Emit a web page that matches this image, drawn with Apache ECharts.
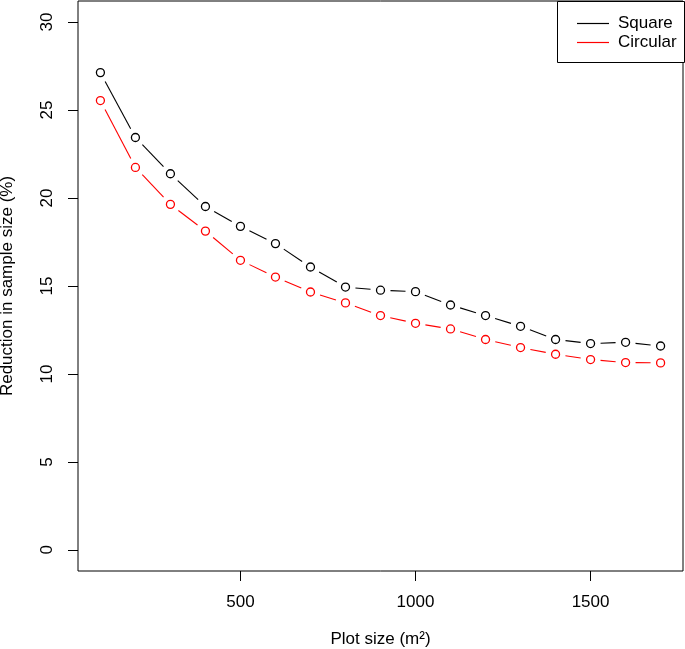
<!DOCTYPE html>
<html>
<head>
<meta charset="utf-8">
<script src="https://cdn.jsdelivr.net/npm/echarts@6/dist/echarts.min.js"></script>
<style>
html,body{margin:0;padding:0;background:#fff;}
#chart{width:685px;height:649px;}
</style>
</head>
<body>
<div id="chart"></div>
<script>
var plotSizes = [100,200,300,400,500,600,700,800,900,1000,1100,1200,1300,1400,1500,1600,1700];
var squareValues = [27.13,23.44,21.38,19.52,18.39,17.41,16.08,14.94,14.76,14.68,13.92,13.32,12.71,11.96,11.73,11.80,11.59];
var circularValues = [25.54,21.74,19.64,18.12,16.46,15.51,14.66,14.04,13.32,12.88,12.56,11.96,11.50,11.12,10.82,10.65,10.63];
var xTicks = [500,1000,1500];
var yTicks = [0,5,10,15,20,25,30];
var xTitle = 'Plot size (m²)';
var yTitle = 'Reduction in sample size (%)';
var seriesNames = ['Square','Circular'];
var seriesColors = ['#000000','#ff0000'];

function pairs(xs, ys){ return xs.map(function(x,i){ return [x, ys[i]]; }); }
function segments(xs, ys){
  var out = [];
  for (var i = 0; i < xs.length - 1; i++) out.push([xs[i], ys[i], xs[i+1], ys[i+1]]);
  return out;
}

var FONT = 'Liberation Sans';
var GAP = 10; // px gap between line ends and point centres (R type="b")
var valuesList = [squareValues, circularValues];
var series = [];
valuesList.forEach(function(vals, i){
  var col = seriesColors[i];
  series.push({
    name: seriesNames[i],
    type: 'custom',
    coordinateSystem: 'cartesian2d',
    data: segments(plotSizes, vals),
    encode: {x: [0, 2], y: [1, 3]},
    itemStyle: {color: col},
    silent: true,
    z: 2,
    renderItem: function(params, api){
      var p1 = api.coord([api.value(0), api.value(1)]);
      var p2 = api.coord([api.value(2), api.value(3)]);
      var dx = p2[0] - p1[0], dy = p2[1] - p1[1];
      var len = Math.sqrt(dx*dx + dy*dy);
      if (len <= 2*GAP) return null;
      var ux = dx/len, uy = dy/len;
      return {
        type: 'line',
        shape: {x1: p1[0] + ux*GAP, y1: p1[1] + uy*GAP, x2: p2[0] - ux*GAP, y2: p2[1] - uy*GAP},
        style: {stroke: col, lineWidth: 1.1, fill: null}
      };
    }
  });
});
valuesList.forEach(function(vals, i){
  series.push({
    name: seriesNames[i] + ' points',
    type: 'scatter',
    data: pairs(plotSizes, vals),
    symbol: 'circle',
    symbolSize: 8,
    itemStyle: {color: '#ffffff', borderColor: seriesColors[i], borderWidth: 1.3, opacity: 1},
    emphasis: {disabled: true},
    silent: true,
    z: 4
  });
});

var chart = echarts.init(document.getElementById('chart'));
chart.setOption({
  animation: false,
  backgroundColor: '#ffffff',
  grid: {left: 78, top: 1, right: 2, bottom: 78, show: true, borderColor: '#000', borderWidth: 1, backgroundColor: 'transparent', containLabel: false, outerBoundsMode: 'none'},
  xAxis: {
    type: 'value', min: 36, max: 1764,
    axisLine: {show: false, onZero: false},
    splitLine: {show: false},
    axisTick: {show: true, length: 10, lineStyle: {color: '#000', width: 1}, customValues: xTicks},
    axisLabel: {show: true, customValues: xTicks, margin: 23, color: '#000', fontFamily: FONT, fontSize: 17,
      formatter: function(v){ return String(v); }},
    name: xTitle, nameLocation: 'middle', nameGap: 60,
    nameTextStyle: {color: '#000', fontFamily: FONT, fontSize: 17}
  },
  yAxis: {
    type: 'value', min: -1.2, max: 31.2,
    axisLine: {show: false, onZero: false},
    splitLine: {show: false},
    axisTick: {show: true, length: 10, lineStyle: {color: '#000', width: 1}, customValues: yTicks},
    axisLabel: {show: true, customValues: yTicks, rotate: 90, margin: 22, color: '#000', fontFamily: FONT, fontSize: 17,
      formatter: function(v){ return String(v); }},
    name: yTitle, nameLocation: 'middle', nameGap: 62, nameRotate: 90,
    nameTextStyle: {color: '#000', fontFamily: FONT, fontSize: 17}
  },
  legend: {
    orient: 'vertical',
    left: 572, top: 10,
    itemWidth: 32, itemHeight: 1.2, itemGap: 2,
    selectedMode: false,
    textStyle: {color: '#000', fontFamily: FONT, fontSize: 17, padding: [0,0,0,4]},
    data: [
      {name: seriesNames[0], icon: 'rect', itemStyle: {color: seriesColors[0]}},
      {name: seriesNames[1], icon: 'rect', itemStyle: {color: seriesColors[1]}}
    ]
  },
  graphic: [{
    type: 'rect', left: 557, top: 1, z: 0,
    shape: {width: 127, height: 61},
    style: {fill: '#fff', stroke: '#000', lineWidth: 1}
  }],
  series: series
});
</script>
</body>
</html>
